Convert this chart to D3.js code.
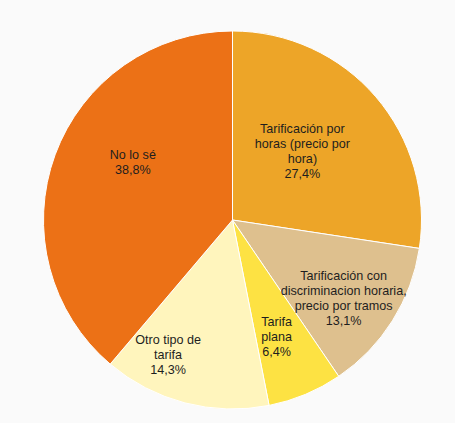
<!DOCTYPE html>
<html>
<head>
<meta charset="utf-8">
<script src="https://cdn.jsdelivr.net/npm/d3@7"></script>
<style>
  html, body { margin: 0; padding: 0; background: #fafafa; }
  svg { display: block; }
  .slice-label { font-family: "Liberation Sans", Arial, sans-serif; font-size: 12.6px; fill: #1e1e1e; }
</style>
</head>
<body>
<svg id="chart"></svg>
<script>
// data, clockwise from 12 o'clock
const categories = [
    "Tarificación por horas (precio por hora)",
    "Tarificación con discriminacion horaria, precio por tramos",
    "Tarifa plana",
    "Otro tipo de tarifa",
    "No lo sé"
];
const values = [27.4, 13.1, 6.4, 14.3, 38.8];
const valueLabels = ["27,4%", "13,1%", "6,4%", "14,3%", "38,8%"];
// how each category name wraps in the label
const labelLines = [
    ["Tarificación por", "horas (precio por", "hora)"],
    ["Tarificación con", "discriminacion horaria,", "precio por tramos"],
    ["Tarifa", "plana"],
    ["Otro tipo de", "tarifa"],
    ["No lo sé"]
];

const colors = ["#eda528", "#dec08e", "#fde243", "#fff5bd", "#ec7116"];
// label placement: radius as a fraction of the pie radius, angle nudge in degrees
const labelRadius = [0.52, 0.72, 0.66, 0.79, 0.61];
const labelNudge = [-4, 3, 2, 11, 10];

const width = 455, height = 423;
const cx = 232.5, cy = 220, radius = 189;
const lineHeight = 15;

const svg = d3.select("#chart")
    .attr("width", width)
    .attr("height", height);

const g = svg.append("g")
    .attr("transform", `translate(${cx},${cy})`);

const rows = categories.map((c, i) => ({name: c, value: values[i], i: i}));

const pie = d3.pie()
    .value(d => d.value)
    .sort(null);

const arc = d3.arc()
    .innerRadius(0)
    .outerRadius(radius);

const arcs = pie(rows);

g.selectAll(".slice")
    .data(arcs)
    .join("path")
    .attr("class", "slice")
    .attr("d", arc)
    .attr("fill", d => colors[d.data.i])
    .attr("stroke", "#ffffff")
    .attr("stroke-width", 1);

// labels
arcs.forEach(d => {
    const i = d.data.i;
    const mid = (d.startAngle + d.endAngle) / 2 + labelNudge[i] * Math.PI / 180;
    const r = labelRadius[i] * radius;
    const x = r * Math.sin(mid);
    const y = -r * Math.cos(mid);
    const lines = labelLines[i].concat([valueLabels[i]]);
    const top = y - (lines.length - 1) * lineHeight / 2;

    const t = g.append("text")
        .attr("class", "slice-label")
        .attr("text-anchor", "middle");

    lines.forEach((line, k) => {
        t.append("tspan")
            .attr("x", x)
            .attr("y", top + k * lineHeight)
            .attr("dy", "0.35em")
            .text(line);
    });
});
</script>
</body>
</html>
